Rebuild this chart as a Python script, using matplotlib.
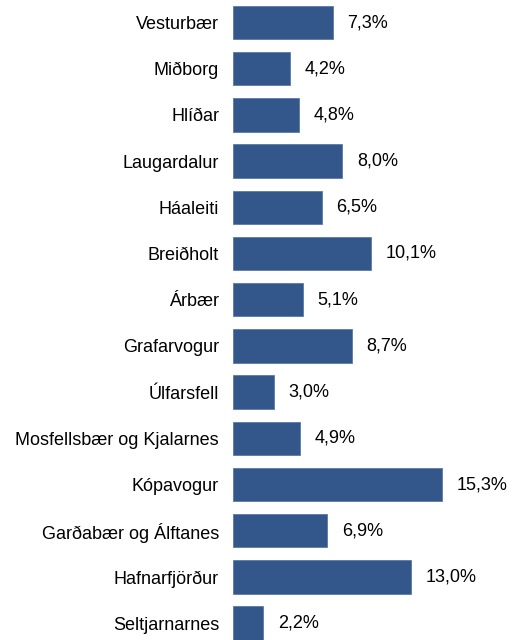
import matplotlib
matplotlib.use("Agg")
import matplotlib.pyplot as plt

# Share per area (%), top to bottom as in the chart
areas = [
    "Vesturbær", "Miðborg", "Hlíðar", "Laugardalur", "Háaleiti", "Breiðholt",
    "Árbær", "Grafarvogur", "Úlfarsfell", "Mosfellsbær og Kjalarnes",
    "Kópavogur", "Garðabær og Álftanes", "Hafnarfjörður", "Seltjarnarnes",
]
shares = [7.3, 4.2, 4.8, 8.0, 6.5, 10.1, 5.1, 8.7, 3.0, 4.9, 15.3, 6.9, 13.0, 2.2]

plt.rcParams['font.family'] = ['Liberation Sans', 'DejaVu Sans']

bar_color = "#33578a"

fig = plt.figure(figsize=(5.12, 6.4), dpi=100)
ax = fig.add_axes([233 / 512, 0, 1 - 233 / 512, 1])

pos = list(range(len(areas)))
ax.barh(pos, shares, height=0.72, color=bar_color, edgecolor="#5a7aa8", linewidth=0.6)

# pixel layout: first bar centre at y=22.5, pitch 46.2 px, 13.67 px per %
ax.set_ylim((640 - 22.5) / 46.2, -22.5 / 46.2)
ax.set_xlim(0, (512 - 233) / 13.67)

for p, v in zip(pos, shares):
    ax.annotate(f"{v:.1f}%".replace(".", ","), xy=(v, p), xytext=(10.5, 0),
                textcoords="offset points", va="center", ha="left", fontsize=13)

ax.set_yticks(pos)
ax.set_yticklabels(areas, fontsize=13)
ax.tick_params(axis="y", length=0, pad=10)
ax.set_xticks([])
for s in ax.spines.values():
    s.set_visible(False)

fig.savefig("out.png", dpi=100)
